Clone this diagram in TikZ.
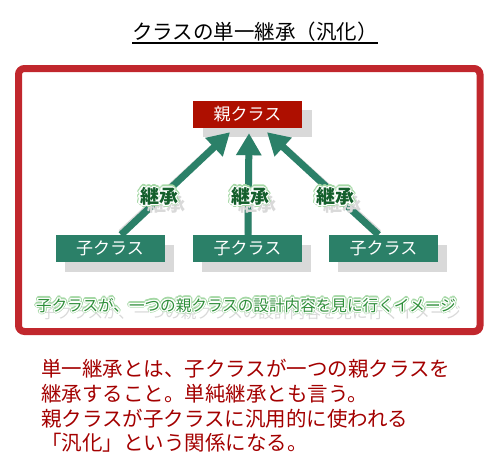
\documentclass[tikz,border=0pt]{standalone}
\usepackage{fontspec}
\usepackage{contour}
\usetikzlibrary{arrows.meta,calc}
\newfontfamily\jp{Noto Sans CJK JP}
\definecolor{framered}{HTML}{C1272D}
\definecolor{parentred}{HTML}{AE0F00}
\definecolor{boxgreen}{HTML}{2B8068}
\definecolor{labelgreen}{HTML}{145F2C}
\definecolor{bannergreen}{HTML}{2F8F3A}
\definecolor{glowgreen}{HTML}{A5D8A5}
\definecolor{shadowgray}{HTML}{D9D9D9}
\definecolor{descred}{HTML}{A30000}
\tikzset{
  clsbox/.style={minimum width=109pt, minimum height=27pt, inner sep=0pt, text=white,
    font=\jp\fontsize{17}{17}\selectfont},
  shadowbox/.style={fill=shadowgray, minimum width=109pt, minimum height=27pt, inner sep=0pt},
  inherit/.style={line width=7pt, draw=boxgreen, -{Triangle[width=24pt,length=22pt]}},
  inheritshadow/.style={line width=7pt, draw=shadowgray, -{Triangle[width=24pt,length=22pt]}},
  lbl/.style={inner sep=0pt, text=labelgreen, font=\jp\bfseries\fontsize{19}{19}\selectfont},
  lblshadow/.style={inner sep=0pt, text=shadowgray, font=\jp\bfseries\fontsize{19}{19}\selectfont},
  banner/.style={inner sep=0pt, text=bannergreen, font=\jp\fontsize{15.6}{16}\selectfont},
  bannershadow/.style={inner sep=0pt, text=shadowgray, font=\jp\fontsize{15.6}{16}\selectfont},
  desc/.style={inner sep=0pt, anchor=base west, text=descred, font=\jp\fontsize{20.5}{25}\selectfont},
}
\begin{document}
\begin{tikzpicture}[x=1pt, y=-1pt]
\useasboundingbox (0,0) rectangle (500,472);
% title
\node[inner sep=0pt, anchor=base, font=\jp\fontsize{20.5}{21}\selectfont] (title) at (255,39.5) {クラスの単一継承（汎化）};
\draw[line width=1.3pt] ([yshift=-3.5pt]title.base west) -- ([yshift=-3.5pt]title.base east);
% frame
\draw[draw=framered, line width=7pt, rounded corners=6pt] (18.5,68.5) rectangle (480,331.5);
% shadows of boxes
\node[shadowbox] (ps) at (257,123) {};
\node[shadowbox] (c1s) at (119,258.5) {};
\node[shadowbox] (c2s) at (256.5,258.5) {};
\node[shadowbox] (c3s) at (392.5,258.5) {};
% boxes
\node[clsbox, fill=parentred] (p) at (247.5,114.5) {親クラス};
\node[clsbox, fill=boxgreen] (c1) at (110,248.5) {子クラス};
\node[clsbox, fill=boxgreen] (c2) at (247.5,248.5) {子クラス};
\node[clsbox, fill=boxgreen] (c3) at (383.5,248.5) {子クラス};
% arrow shadows
\begin{scope}[shift={(9,8)}]
\draw[inheritshadow] ($(c1.north)+(11,-2)$) -- ($(p.south)+(-17.5,4)$);
\draw[inheritshadow] ($(c2.north)+(0.5,-2)$) -- ($(p.south)+(1.5,5)$);
\draw[inheritshadow] ($(c3.north)+(-5,-2)$) -- ($(p.south)+(19.5,4)$);
\end{scope}
\node[clsbox, fill=parentred] (p2) at (p) {親クラス};
% arrows
\draw[inherit] ($(c1.north)+(11,0)$) -- ($(p.south)+(-17.5,4)$);
\draw[inherit] ($(c2.north)+(0.5,0)$) -- ($(p.south)+(1.5,5)$);
\draw[inherit] ($(c3.north)+(-5,0)$) -- ($(p.south)+(19.5,4)$);
\node[clsbox, fill=boxgreen] (c1b) at (c1) {子クラス};
\node[clsbox, fill=boxgreen] (c2b) at (c2) {子クラス};
\node[clsbox, fill=boxgreen] (c3b) at (c3) {子クラス};
% labels
\foreach \n/\x in {l1/159, l2/250, l3/335} {
  \node[lblshadow] (\n s) at (\x+7,204) {継承};
  \node[lbl] (\n g) at (\x,197) {\contourlength{2.4pt}\contour{glowgreen}{継承}};
  \node[lbl] (\n) at (\x,197) {\contourlength{1.3pt}\contour{white}{継承}};
}
% banner
\node[bannershadow] (bs) at (251,313) {子クラスが、一つの親クラスの設計内容を見に行くイメージ};
\node[banner] (bg) at (246,306) {\contourlength{2.2pt}\contour{glowgreen}{子クラスが、一つの親クラスの設計内容を見に行くイメージ}};
\node[banner] (b) at (246,306) {\contourlength{1.2pt}\contour{white}{子クラスが、一つの親クラスの設計内容を見に行くイメージ}};
% description
\node[desc] (d1) at (41,376) {単一継承とは、子クラスが一つの親クラスを};
\node[desc] (d2) at (41,401) {継承すること。単純継承とも言う。};
\node[desc] (d3) at (41,426) {親クラスが子クラスに汎用的に使われる};
\node[desc] (d4) at (41,450) {「汎化」という関係になる。};
\end{tikzpicture}
\end{document}
